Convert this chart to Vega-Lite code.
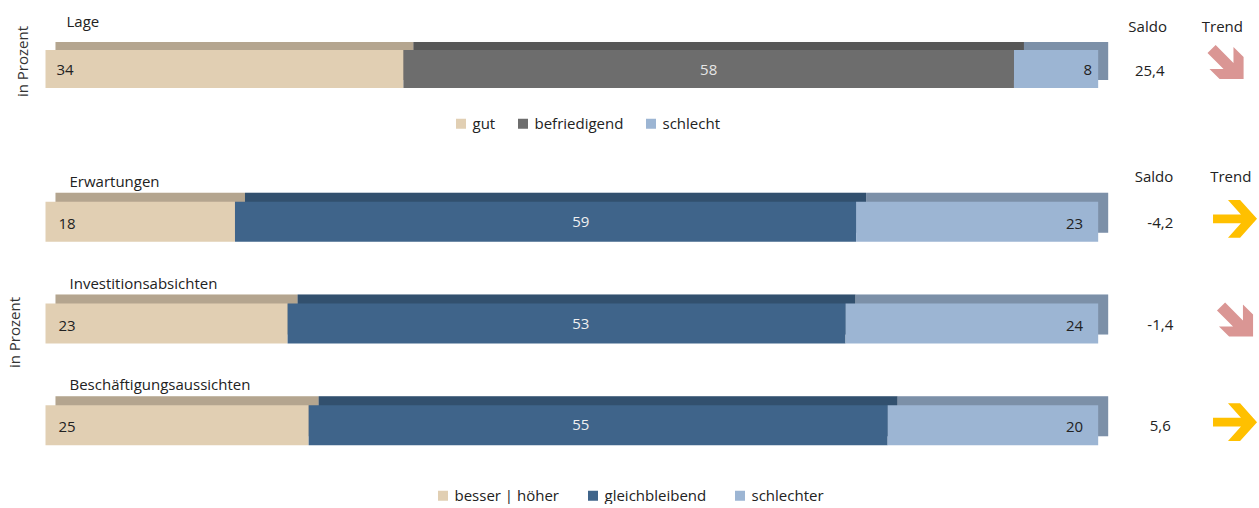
{
  "$schema": "https://vega.github.io/schema/vega-lite/v6.json",
  "padding": {"left": 6.5, "top": 15, "right": 0, "bottom": 0},
  "bounds": "flush",
  "spacing": 62,
  "config": {
    "font": "Open Sans",
    "view": {"stroke": null},
    "locale": {"number": {"decimal": ",", "thousands": ".", "grouping": [3], "currency": ["", " €"], "minus": "-"}},
    "legend": {"symbolType": "square", "symbolSize": 100, "labelFontSize": 15, "labelColor": "#222222", "labelOffset": 4, "columnPadding": 20, "symbolStrokeWidth": 0, "labelFont": "Open Sans"},
    "text": {"font": "Open Sans", "fontSize": 15, "color": "#222222"}
  },
  "datasets": {
    "bars": [
      {"group": "lage", "item": "Lage", "cat": "gut", "order": 1, "value": 34},
      {"group": "lage", "item": "Lage", "cat": "befriedigend", "order": 2, "value": 58},
      {"group": "lage", "item": "Lage", "cat": "schlecht", "order": 3, "value": 8},
      {"group": "ausblick", "item": "Erwartungen", "cat": "besser | höher", "order": 1, "value": 18},
      {"group": "ausblick", "item": "Erwartungen", "cat": "gleichbleibend", "order": 2, "value": 59},
      {"group": "ausblick", "item": "Erwartungen", "cat": "schlechter", "order": 3, "value": 23},
      {"group": "ausblick", "item": "Investitionsabsichten", "cat": "besser | höher", "order": 1, "value": 23},
      {"group": "ausblick", "item": "Investitionsabsichten", "cat": "gleichbleibend", "order": 2, "value": 53},
      {"group": "ausblick", "item": "Investitionsabsichten", "cat": "schlechter", "order": 3, "value": 24},
      {"group": "ausblick", "item": "Beschäftigungsaussichten", "cat": "besser | höher", "order": 1, "value": 25},
      {"group": "ausblick", "item": "Beschäftigungsaussichten", "cat": "gleichbleibend", "order": 2, "value": 55},
      {"group": "ausblick", "item": "Beschäftigungsaussichten", "cat": "schlechter", "order": 3, "value": 20}
    ],
    "summary": [
      {"group": "lage", "item": "Lage", "saldo": 25.4, "trend": "down"},
      {"group": "ausblick", "item": "Erwartungen", "saldo": -4.2, "trend": "right"},
      {"group": "ausblick", "item": "Investitionsabsichten", "saldo": -1.4, "trend": "down"},
      {"group": "ausblick", "item": "Beschäftigungsaussichten", "saldo": 5.6, "trend": "right"}
    ]
  },
  "resolve": {"scale": {"color": "independent", "x": "independent", "y": "independent"}, "legend": {"color": "independent"}},
  "vconcat": [
    {
      "width": 1179,
      "height": 80,
      "encoding": {
        "y": {"field": "item", "type": "nominal", "sort": null, "scale": {"paddingInner": 0, "paddingOuter": 0},
          "axis": {"title": "in Prozent", "labels": false, "ticks": false, "domain": false, "grid": false, "titleFontSize": 15, "titleFontWeight": "normal", "titleColor": "#333333", "titleFont": "Open Sans", "titlePadding": 15.5, "titleY": 32}}
      },
      "layer": [
        {
          "data": {"name": "bars"},
          "transform": [
            {"filter": "datum.group === 'lage'"},
            {"stack": "value", "groupby": ["item"], "sort": [{"field": "order", "order": "ascending"}], "as": ["v0", "v1"]}
          ],
          "layer": [
            {
              "mark": {"type": "bar", "size": 38, "xOffset": 10, "x2Offset": 10, "yOffset": -8, "y2Offset": -8},
              "encoding": {
                "x": {"field": "v0", "type": "quantitative", "scale": {"domain": [0, 112], "nice": false}, "axis": null},
                "x2": {"field": "v1"},
                "color": {"field": "cat", "type": "nominal", "scale": {"domain": ["gut", "befriedigend", "schlecht"], "range": ["#E1CFB3", "#6D6D6D", "#9CB5D3"]},
                  "legend": {"orient": "none", "legendX": 408, "legendY": 87, "direction": "horizontal", "title": null}}
              }
            },
            {
              "mark": {"type": "bar", "size": 38, "xOffset": 10, "x2Offset": 10, "yOffset": -8, "y2Offset": -8, "color": "#000000", "opacity": 0.2},
              "encoding": {
                "x": {"field": "v0", "type": "quantitative"},
                "x2": {"field": "v1"}
              }
            },
            {
              "mark": {"type": "bar", "size": 38},
              "encoding": {
                "x": {"field": "v0", "type": "quantitative"},
                "x2": {"field": "v1"},
                "color": {"field": "cat", "type": "nominal"}
              }
            },
            {
              "transform": [{"filter": "datum.order === 1"}],
              "mark": {"type": "text", "align": "left", "baseline": "middle", "dx": 11, "dy": 1},
              "encoding": {"x": {"field": "v0", "type": "quantitative"}, "text": {"field": "value", "type": "quantitative"}}
            },
            {
              "transform": [{"filter": "datum.order === 2"}],
              "mark": {"type": "text", "align": "center", "baseline": "middle", "dy": 1, "color": "#E6E6E6"},
              "encoding": {"x": {"datum": 63}, "text": {"field": "value", "type": "quantitative"}}
            },
            {
              "transform": [{"filter": "datum.order === 3"}],
              "mark": {"type": "text", "align": "right", "baseline": "middle", "dx": -6, "dy": 1},
              "encoding": {"x": {"field": "v1", "type": "quantitative"}, "text": {"field": "value", "type": "quantitative"}}
            },
            {
              "transform": [{"filter": "datum.order === 1"}],
              "mark": {"type": "text", "align": "left", "baseline": "alphabetic", "dx": 21, "dy": -42},
              "encoding": {"x": {"field": "v0", "type": "quantitative"}, "text": {"field": "item", "type": "nominal"}}
            }
          ]
        },
        {
          "data": {"name": "summary"},
          "transform": [{"filter": "datum.group === 'lage'"}],
          "layer": [
            {
              "mark": {"type": "text", "align": "center", "baseline": "middle", "dy": 2},
              "encoding": {"x": {"datum": 104.9}, "text": {"field": "saldo", "type": "quantitative", "format": ".1f"}}
            },
            {
              "mark": {"type": "text", "align": "center", "baseline": "alphabetic", "dy": -37, "text": "Saldo"},
              "encoding": {"x": {"datum": 104.7}}
            },
            {
              "mark": {"type": "text", "align": "center", "baseline": "alphabetic", "dy": -37, "text": "Trend"},
              "encoding": {"x": {"datum": 111.8}}
            },
            {
              "mark": {"type": "point", "filled": true, "size": 1936, "strokeWidth": 0, "opacity": 1, "yOffset": -6},
              "encoding": {
                "x": {"datum": 112.1},
                "shape": {"field": "trend", "type": "nominal", "scale": {"domain": ["down", "right"], "range": ["M -0.45 -0.82 L 0.36 0 L 0.36 -0.73 L 0.82 -0.27 L 0.82 0.73 L -0.27 0.73 L -0.73 0.27 L -0.09 0.27 L -0.82 -0.45 Z", "M -1 -0.2 L 0.27 -0.2 L -0.32 -0.86 L 0.23 -0.86 L 1 0 L 0.23 0.86 L -0.32 0.86 L 0.27 0.2 L -1 0.2 Z"]}, "legend": null},
                "fill": {"field": "trend", "type": "nominal", "scale": {"domain": ["down", "right"], "range": ["#DA9694", "#FFC000"]}, "legend": null}
              }
            }
          ]
        }
      ]
    },
    {
      "width": 1179,
      "height": 305,
      "encoding": {
        "y": {"field": "item", "type": "nominal", "sort": null, "scale": {"paddingInner": 0, "paddingOuter": 0},
          "axis": {"title": "in Prozent", "labels": false, "ticks": false, "domain": false, "grid": false, "titleFontSize": 15, "titleFontWeight": "normal", "titleColor": "#333333", "titleFont": "Open Sans", "titlePadding": 23.5, "titleY": 161}}
      },
      "layer": [
        {
          "data": {"name": "bars"},
          "transform": [
            {"filter": "datum.group === 'ausblick'"},
            {"stack": "value", "groupby": ["item"], "sort": [{"field": "order", "order": "ascending"}], "as": ["v0", "v1"]}
          ],
          "layer": [
            {
              "mark": {"type": "bar", "size": 40, "xOffset": 10, "x2Offset": 10, "yOffset": -9, "y2Offset": -9},
              "encoding": {
                "x": {"field": "v0", "type": "quantitative", "scale": {"domain": [0, 112], "nice": false}, "axis": null},
                "x2": {"field": "v1"},
                "color": {"field": "cat", "type": "nominal", "scale": {"domain": ["besser | höher", "gleichbleibend", "schlechter"], "range": ["#E1CFB3", "#3F648A", "#9CB5D3"]},
                  "legend": {"orient": "none", "legendX": 390, "legendY": 317, "direction": "horizontal", "title": null, "columnPadding": 26}}
              }
            },
            {
              "mark": {"type": "bar", "size": 40, "xOffset": 10, "x2Offset": 10, "yOffset": -9, "y2Offset": -9, "color": "#000000", "opacity": 0.2},
              "encoding": {
                "x": {"field": "v0", "type": "quantitative"},
                "x2": {"field": "v1"}
              }
            },
            {
              "mark": {"type": "bar", "size": 40},
              "encoding": {
                "x": {"field": "v0", "type": "quantitative"},
                "x2": {"field": "v1"},
                "color": {"field": "cat", "type": "nominal"}
              }
            },
            {
              "transform": [{"filter": "datum.order === 1"}],
              "mark": {"type": "text", "align": "left", "baseline": "middle", "dx": 13, "dy": 2},
              "encoding": {"x": {"field": "v0", "type": "quantitative"}, "text": {"field": "value", "type": "quantitative"}}
            },
            {
              "transform": [{"filter": "datum.order === 2"}],
              "mark": {"type": "text", "align": "center", "baseline": "middle", "dy": 0, "dx": 9, "color": "#F0F0F0"},
              "encoding": {"x": {"datum": 50}, "text": {"field": "value", "type": "quantitative"}}
            },
            {
              "transform": [{"filter": "datum.order === 3"}],
              "mark": {"type": "text", "align": "right", "baseline": "middle", "dx": -15, "dy": 2},
              "encoding": {"x": {"field": "v1", "type": "quantitative"}, "text": {"field": "value", "type": "quantitative"}}
            },
            {
              "transform": [{"filter": "datum.order === 1"}],
              "mark": {"type": "text", "align": "left", "baseline": "alphabetic", "dx": 24, "dy": -35},
              "encoding": {"x": {"field": "v0", "type": "quantitative"}, "text": {"field": "item", "type": "nominal"}}
            }
          ]
        },
        {
          "data": {"name": "summary"},
          "transform": [{"filter": "datum.group === 'ausblick'"}],
          "layer": [
            {
              "mark": {"type": "text", "align": "center", "baseline": "middle", "dy": 1},
              "encoding": {"x": {"datum": 105.9}, "text": {"field": "saldo", "type": "quantitative", "format": ".1f"}}
            },
            {
              "transform": [{"filter": "datum.item === 'Erwartungen'"}],
              "mark": {"type": "text", "align": "center", "baseline": "alphabetic", "dy": -40, "text": "Saldo"},
              "encoding": {"x": {"datum": 105.3}}
            },
            {
              "transform": [{"filter": "datum.item === 'Erwartungen'"}],
              "mark": {"type": "text", "align": "center", "baseline": "alphabetic", "dy": -40, "text": "Trend"},
              "encoding": {"x": {"datum": 112.6}}
            },
            {
              "mark": {"type": "point", "filled": true, "size": 1936, "strokeWidth": 0, "opacity": 1, "yOffset": -3},
              "encoding": {
                "x": {"datum": 113.0},
                "shape": {"field": "trend", "type": "nominal", "scale": {"domain": ["down", "right"], "range": ["M -0.45 -0.82 L 0.36 0 L 0.36 -0.73 L 0.82 -0.27 L 0.82 0.73 L -0.27 0.73 L -0.73 0.27 L -0.09 0.27 L -0.82 -0.45 Z", "M -1 -0.2 L 0.27 -0.2 L -0.32 -0.86 L 0.23 -0.86 L 1 0 L 0.23 0.86 L -0.32 0.86 L 0.27 0.2 L -1 0.2 Z"]}, "legend": null},
                "fill": {"field": "trend", "type": "nominal", "scale": {"domain": ["down", "right"], "range": ["#DA9694", "#FFC000"]}, "legend": null}
              }
            }
          ]
        }
      ]
    }
  ]
}
